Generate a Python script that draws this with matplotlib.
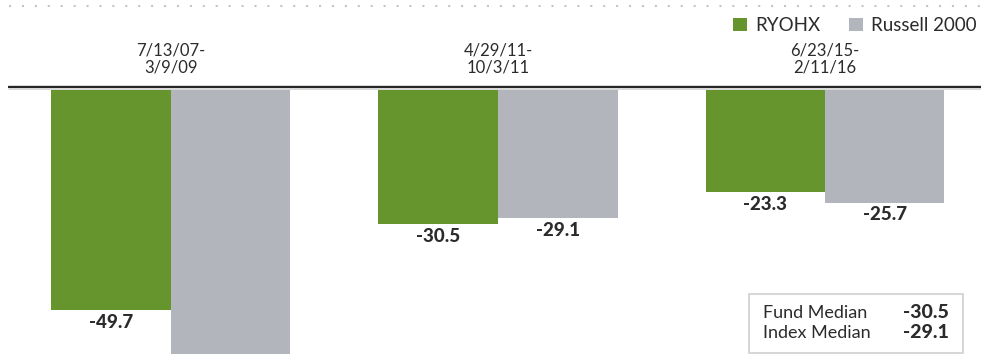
import matplotlib
matplotlib.use("Agg")
import matplotlib.pyplot as plt
from matplotlib.patches import Rectangle, Patch
from matplotlib.lines import Line2D

# Drawdown periods and cumulative returns (%)
periods = ["7/13/07-\n3/9/09", "4/29/11-\n10/3/11", "6/23/15-\n2/11/16"]
fund_name = "RYOHX"
index_name = "Russell 2000"
fund_returns = [-49.7, -30.5, -23.3]
index_returns = [-59.9, -29.1, -25.7]
fund_median = -30.5
index_median = -29.1

GREEN = "#66952e"
GREY = "#b2b5bc"
TEXT = "#2b2b2b"
FONT = "Lato"

W, H = 981, 354
fig = plt.figure(figsize=(W / 100, H / 100), dpi=100)
ax = fig.add_axes([0, 0, 1, 1])
ax.set_axis_off()

# pixel geometry of the plotting area
group_px = 327.0
first_center_px = 171.0
zero_px = 88.0
px_per_unit = 4.47
ymin = (zero_px - H) / px_per_unit
ax.set_xlim(-first_center_px / group_px, (W - first_center_px) / group_px)
ax.set_ylim(ymin, zero_px / px_per_unit)

bw = 119.5 / group_px
xs = list(range(len(periods)))
ax.bar([x - bw / 2 for x in xs], fund_returns, width=bw, color=GREEN, zorder=2)
ax.bar([x + bw / 2 for x in xs], index_returns, width=bw, color=GREY, zorder=2)

# value labels below each bar end (only where they fall inside the frame)
lab_off = 12 / px_per_unit
for offset, vals in ((-bw / 2, fund_returns), (bw / 2, index_returns)):
    for x, v in zip(xs, vals):
        y = v - lab_off
        if y - 2 > ymin:
            ax.text(x + offset, y, f"{v:.1f}", ha="center", va="center",
                    fontsize=13.5, fontweight="black", color=TEXT, family=FONT)

# category labels above the baseline
for x, lab in zip(xs, periods):
    ax.text(x, (zero_px - 59) / px_per_unit, lab, ha="center", va="center",
            fontsize=12, color=TEXT, family=FONT, linespacing=1.1)

# baseline with soft halo
x0 = -first_center_px / group_px + 8 / group_px
x1 = (W - first_center_px) / group_px
yb = 0.6 / px_per_unit
ax.plot([x0, x1], [yb, yb], color="#d8d8d8", lw=3.6, solid_capstyle="butt", zorder=3)
ax.plot([x0, x1], [yb, yb], color="#222222", lw=1.4, solid_capstyle="butt", zorder=4)

# dotted rule at the top
fig.add_artist(Line2D([9 / W, 1], [1 - 6 / H, 1 - 6 / H], transform=fig.transFigure,
                      color="#c4c4c4", lw=1.5, linestyle=(0, (1, 5.2)),
                      dash_capstyle="butt"))

# legend
handles = [Patch(facecolor=GREEN, edgecolor="none", label=fund_name),
           Patch(facecolor=GREY, edgecolor="none", label=index_name)]
fig.legend(handles=handles, loc="upper right", bbox_to_anchor=(1.0 - 4 / W, 1 - 17 / H),
           ncol=2, frameon=False, handlelength=0.75, handleheight=0.75,
           handletextpad=0.45, columnspacing=1.5, borderaxespad=0.0, borderpad=0.0,
           prop={"family": FONT, "size": 13.5}, labelcolor=TEXT)

# median summary box
bx0, by0, bx1, by1 = 749, 294, 963, 353
fig.add_artist(Rectangle((bx0 / W, 1 - by1 / H), (bx1 - bx0) / W, (by1 - by0) / H,
                         transform=fig.transFigure, facecolor="white",
                         edgecolor="#cfcfcf", lw=1.2))
rows = [("Fund Median", fund_median, 313), ("Index Median", index_median, 333)]
for name, val, py in rows:
    fig.text(763 / W, 1 - py / H, name, ha="left", va="center", fontsize=13,
             color=TEXT, family=FONT)
    fig.text(949 / W, 1 - py / H, f"{val:.1f}", ha="right", va="center", fontsize=14,
             fontweight="black", color=TEXT, family=FONT)

fig.savefig("out.png", dpi=100)
